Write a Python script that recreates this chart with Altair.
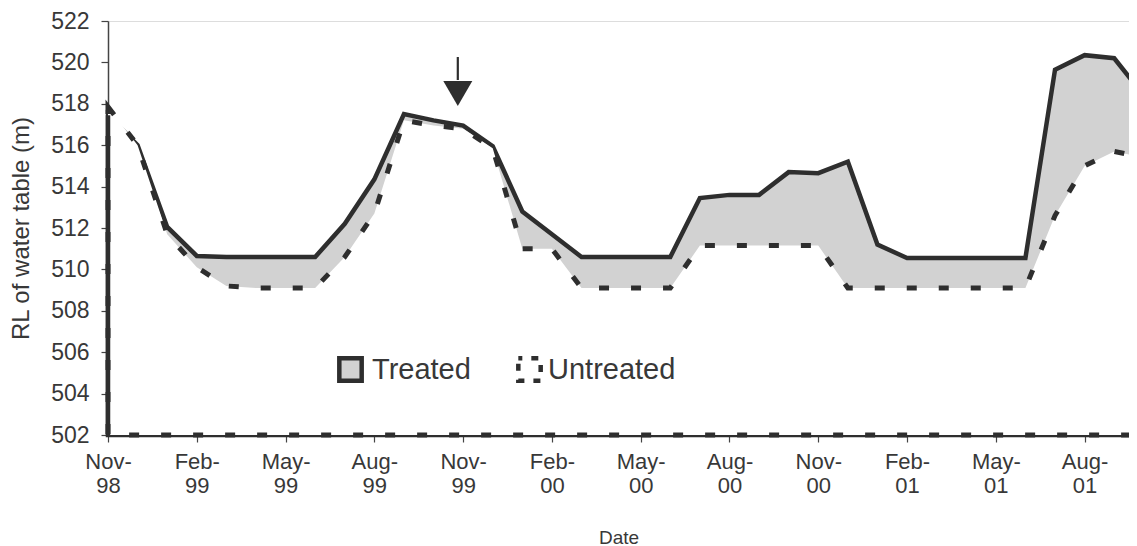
import json
import altair as alt
import pandas as pd

# ---- data (month index 0 = Nov-98) ----
month_index = list(range(36))
treated = [517.45, 516.0, 512.05, 510.65, 510.6, 510.6, 510.6, 510.6, 512.2, 514.35,
           517.5, 517.2, 516.95, 515.95, 512.8, 511.7, 510.6, 510.6, 510.6, 510.6,
           513.45, 513.6, 513.6, 514.7, 514.65, 515.2, 511.2, 510.55, 510.55, 510.55,
           510.55, 510.55, 519.65, 520.35, 520.2, 518.4]
untreated = [517.85, 516.0, 511.7, 510.1, 509.2, 509.1, 509.1, 509.1, 510.6, 512.7,
             517.2, 516.95, 516.8, 515.85, 511.0, 511.0, 509.1, 509.1, 509.1, 509.1,
             511.15, 511.15, 511.15, 511.15, 511.15, 509.1, 509.1, 509.1, 509.1, 509.1,
             509.1, 509.1, 512.6, 515.0, 515.7, 515.4]
series_names = ["Treated", "Untreated"]
tick_months = [0, 3, 6, 9, 12, 15, 18, 21, 24, 27, 30, 33]
tick_labels = ["Nov-98", "Feb-99", "May-99", "Aug-99", "Nov-99", "Feb-00",
               "May-00", "Aug-00", "Nov-00", "Feb-01", "May-01", "Aug-01"]
y_ticks = [502, 504, 506, 508, 510, 512, 514, 516, 518, 520, 522]
baseline_level = 502
arrow_month = [11.82]
arrow_top = [520.26]
arrow_neck = [519.15]
arrow_head = [518.5]

df = pd.DataFrame({
    "m": month_index + month_index,
    "value": treated + untreated,
    "series": [series_names[0]] * len(treated) + [series_names[1]] * len(untreated),
})
edge_df = pd.DataFrame({"m": [month_index[0]], "value": [treated[0]], "base": [baseline_level]})
arrow_df = pd.DataFrame({"m": arrow_month, "top": arrow_top, "neck": arrow_neck, "head": arrow_head})

label_parts = [[lab.split("-")[0] + "-", lab.split("-")[1]] for lab in tick_labels]
label_expr = json.dumps(label_parts) + "[round(datum.value / 3)]"

FONT = "Liberation Sans"
INK = "#2e2e2e"
TXT = "#383838"
GRAY = "#d2d2d2"
DASH = [10, 22]

x_scale = alt.Scale(domain=[0, 34.5], nice=False, zero=False)
y_scale = alt.Scale(domain=[502, 522], nice=False, zero=False)

x_enc = alt.X("m:Q", scale=x_scale, title="Date",
              axis=alt.Axis(values=tick_months, labelExpr=label_expr, labelOverlap=False,
                            labelFlush=False, tickSize=7, labelPadding=9, labelFontSize=22,
                            labelLineHeight=24, labelColor=TXT, titleFontSize=19,
                            titleFontWeight="normal", titleColor=TXT, titlePadding=32,
                            grid=False, domainColor="#444", tickColor="#444",
                            domainWidth=1.5, tickWidth=1.2))
y_enc = alt.Y("value:Q", scale=y_scale, title="RL of water table (m)",
              axis=alt.Axis(values=y_ticks, tickSize=7, labelPadding=12, labelFontSize=23,
                            labelColor=TXT, titleFontSize=24, titleFontWeight="normal",
                            titleColor=TXT, titlePadding=17, grid=False,
                            domainColor="#444", tickColor="#444", domainWidth=1.5, tickWidth=1.2))

legend_common = dict(title=None, orient="none", legendY=334, symbolType="square",
                     symbolSize=500, symbolStrokeWidth=4.5, symbolStrokeColor=INK,
                     labelFontSize=29, labelFont=FONT, labelColor=TXT)

fill_t = alt.Fill("series:N", scale=alt.Scale(domain=[series_names[0]], range=[GRAY]),
                  legend=alt.Legend(legendX=228, labelOffset=7, **legend_common))
fill_u = alt.Fill("series:N", scale=alt.Scale(domain=[series_names[1]], range=["#ffffff"]),
                  legend=alt.Legend(legendX=407, labelOffset=4, symbolDash=[7, 9],
                                    symbolDashOffset=3, **legend_common))

base = alt.Chart(df)
area_t = base.transform_filter(alt.datum.series == series_names[0]).mark_area(
    stroke=INK, strokeWidth=4.5, interpolate="linear"
).encode(x=x_enc, y=y_enc, y2=alt.datum(baseline_level), fill=fill_t)
area_u = base.transform_filter(alt.datum.series == series_names[1]).mark_area(
    stroke=INK, strokeWidth=5, strokeDash=DASH, interpolate="linear"
).encode(x=x_enc, y=y_enc, y2=alt.datum(baseline_level), fill=fill_u)

# left border of the treated area (stays visible in the reference)
edge_t = alt.Chart(edge_df).mark_rule(color=INK, strokeWidth=4.5).encode(
    x=alt.X("m:Q", scale=x_scale), y=alt.Y("value:Q", scale=y_scale), y2="base:Q")

arrow_shaft = alt.Chart(arrow_df).mark_rule(color=INK, strokeWidth=2.2).encode(
    x=alt.X("m:Q", scale=x_scale), y=alt.Y("top:Q", scale=y_scale), y2="neck:Q")
arrow_tip = alt.Chart(arrow_df).mark_point(shape="triangle-down", filled=True, size=841,
                                            color=INK, opacity=1).encode(
    x=alt.X("m:Q", scale=x_scale), y=alt.Y("head:Q", scale=y_scale))

chart = alt.layer(area_t, area_u, edge_t, arrow_shaft, arrow_tip).resolve_scale(
    fill="independent"
).properties(
    width=1021, height=414,
    padding={"left": 100, "top": 13, "right": 0, "bottom": 111},
    autosize="none",
).configure_view(stroke=None).configure(font=FONT, background="white")

chart.save("out.html", embed_options={"renderer": "svg", "actions": False})
